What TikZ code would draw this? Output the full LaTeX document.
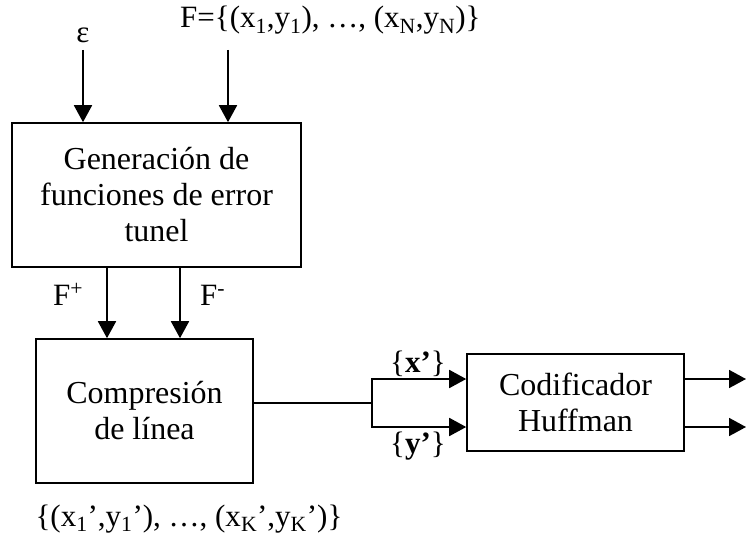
\documentclass[tikz,border=0pt]{standalone}
\usepackage{fontspec}
\setmainfont{Liberation Serif}
\usetikzlibrary{arrows.meta}

\tikzset{
  block/.style={draw, line width=1.6pt, align=center, inner sep=0pt,
    font=\fontsize{32}{36}\selectfont},
  lbl/.style={font=\fontsize{31}{34}\selectfont, inner sep=0pt},
  wire/.style={line width=1.8pt},
  flow/.style={wire, -{Triangle[length=17pt,width=18pt]}},
}

\begin{document}
\begin{tikzpicture}[x=1pt,y=-1pt]
    \useasboundingbox (0,0) rectangle (746,535);

    % --- INPUTS ---
    \node[lbl, anchor=base] (eps) at (83,43) {ε};
    \node[lbl, anchor=base west] (fset) at (180,28)
        {F=\{(x\textsubscript{1},y\textsubscript{1}), …, (x\textsubscript{N},y\textsubscript{N})\}};
    \coordinate (epsin) at (83,50);
    \coordinate (fin) at (228,50);

    % --- ERROR FUNCTIONS ---
    \node[block, minimum width=289pt, minimum height=144pt] (gen) at (156.5,195)
        {Generación de\\funciones de error\\tunel};

    \draw[flow] (epsin) -- (epsin |- gen.north);
    \draw[flow] (fin) -- (fin |- gen.north);

    % --- LINE COMPRESSION ---
    \node[block, minimum width=217pt, minimum height=144pt] (comp) at (144.5,411)
        {Compresión\\de línea};

    \draw[flow] ([xshift=-49.5pt]gen.south) -- ([xshift=-49.5pt]gen.south |- comp.north);
    \draw[flow] ([xshift=23.5pt]gen.south) -- ([xshift=23.5pt]gen.south |- comp.north);
    \node[lbl, anchor=base west] (fplus) at (53,305) {F\textsuperscript{+}};
    \node[lbl, anchor=base west] (fminus) at (200,305) {F\textsuperscript{-}};

    \node[lbl, anchor=base] (pts) at (189,526)
        {\{(x\textsubscript{1}’,y\textsubscript{1}’), …, (x\textsubscript{K}’,y\textsubscript{K}’)\}};

    % --- HUFFMAN ---
    \node[block, minimum width=217pt, minimum height=97pt] (huff) at (575.5,402.5)
        {Codificador\\Huffman};

    \coordinate (split) at (372,403);
    \coordinate (xrow) at (372,379);
    \coordinate (yrow) at (372,427);
    \coordinate (xout) at (746,379);
    \coordinate (yout) at (746,427);

    \draw[wire] (comp.east |- split) -- (split);
    \draw[flow] (split) -- (xrow) -- (xrow -| huff.west);
    \draw[flow] (split) -- (yrow) -- (yrow -| huff.west);
    \draw[flow] (huff.east |- xout) -- (xout);
    \draw[flow] (huff.east |- yout) -- (yout);

    \node[lbl, anchor=base] (xlbl) at (418,372) {\{\textbf{x’}\}};
    \node[lbl, anchor=base] (ylbl) at (418,453) {\{\textbf{y’}\}};
\end{tikzpicture}
\end{document}
